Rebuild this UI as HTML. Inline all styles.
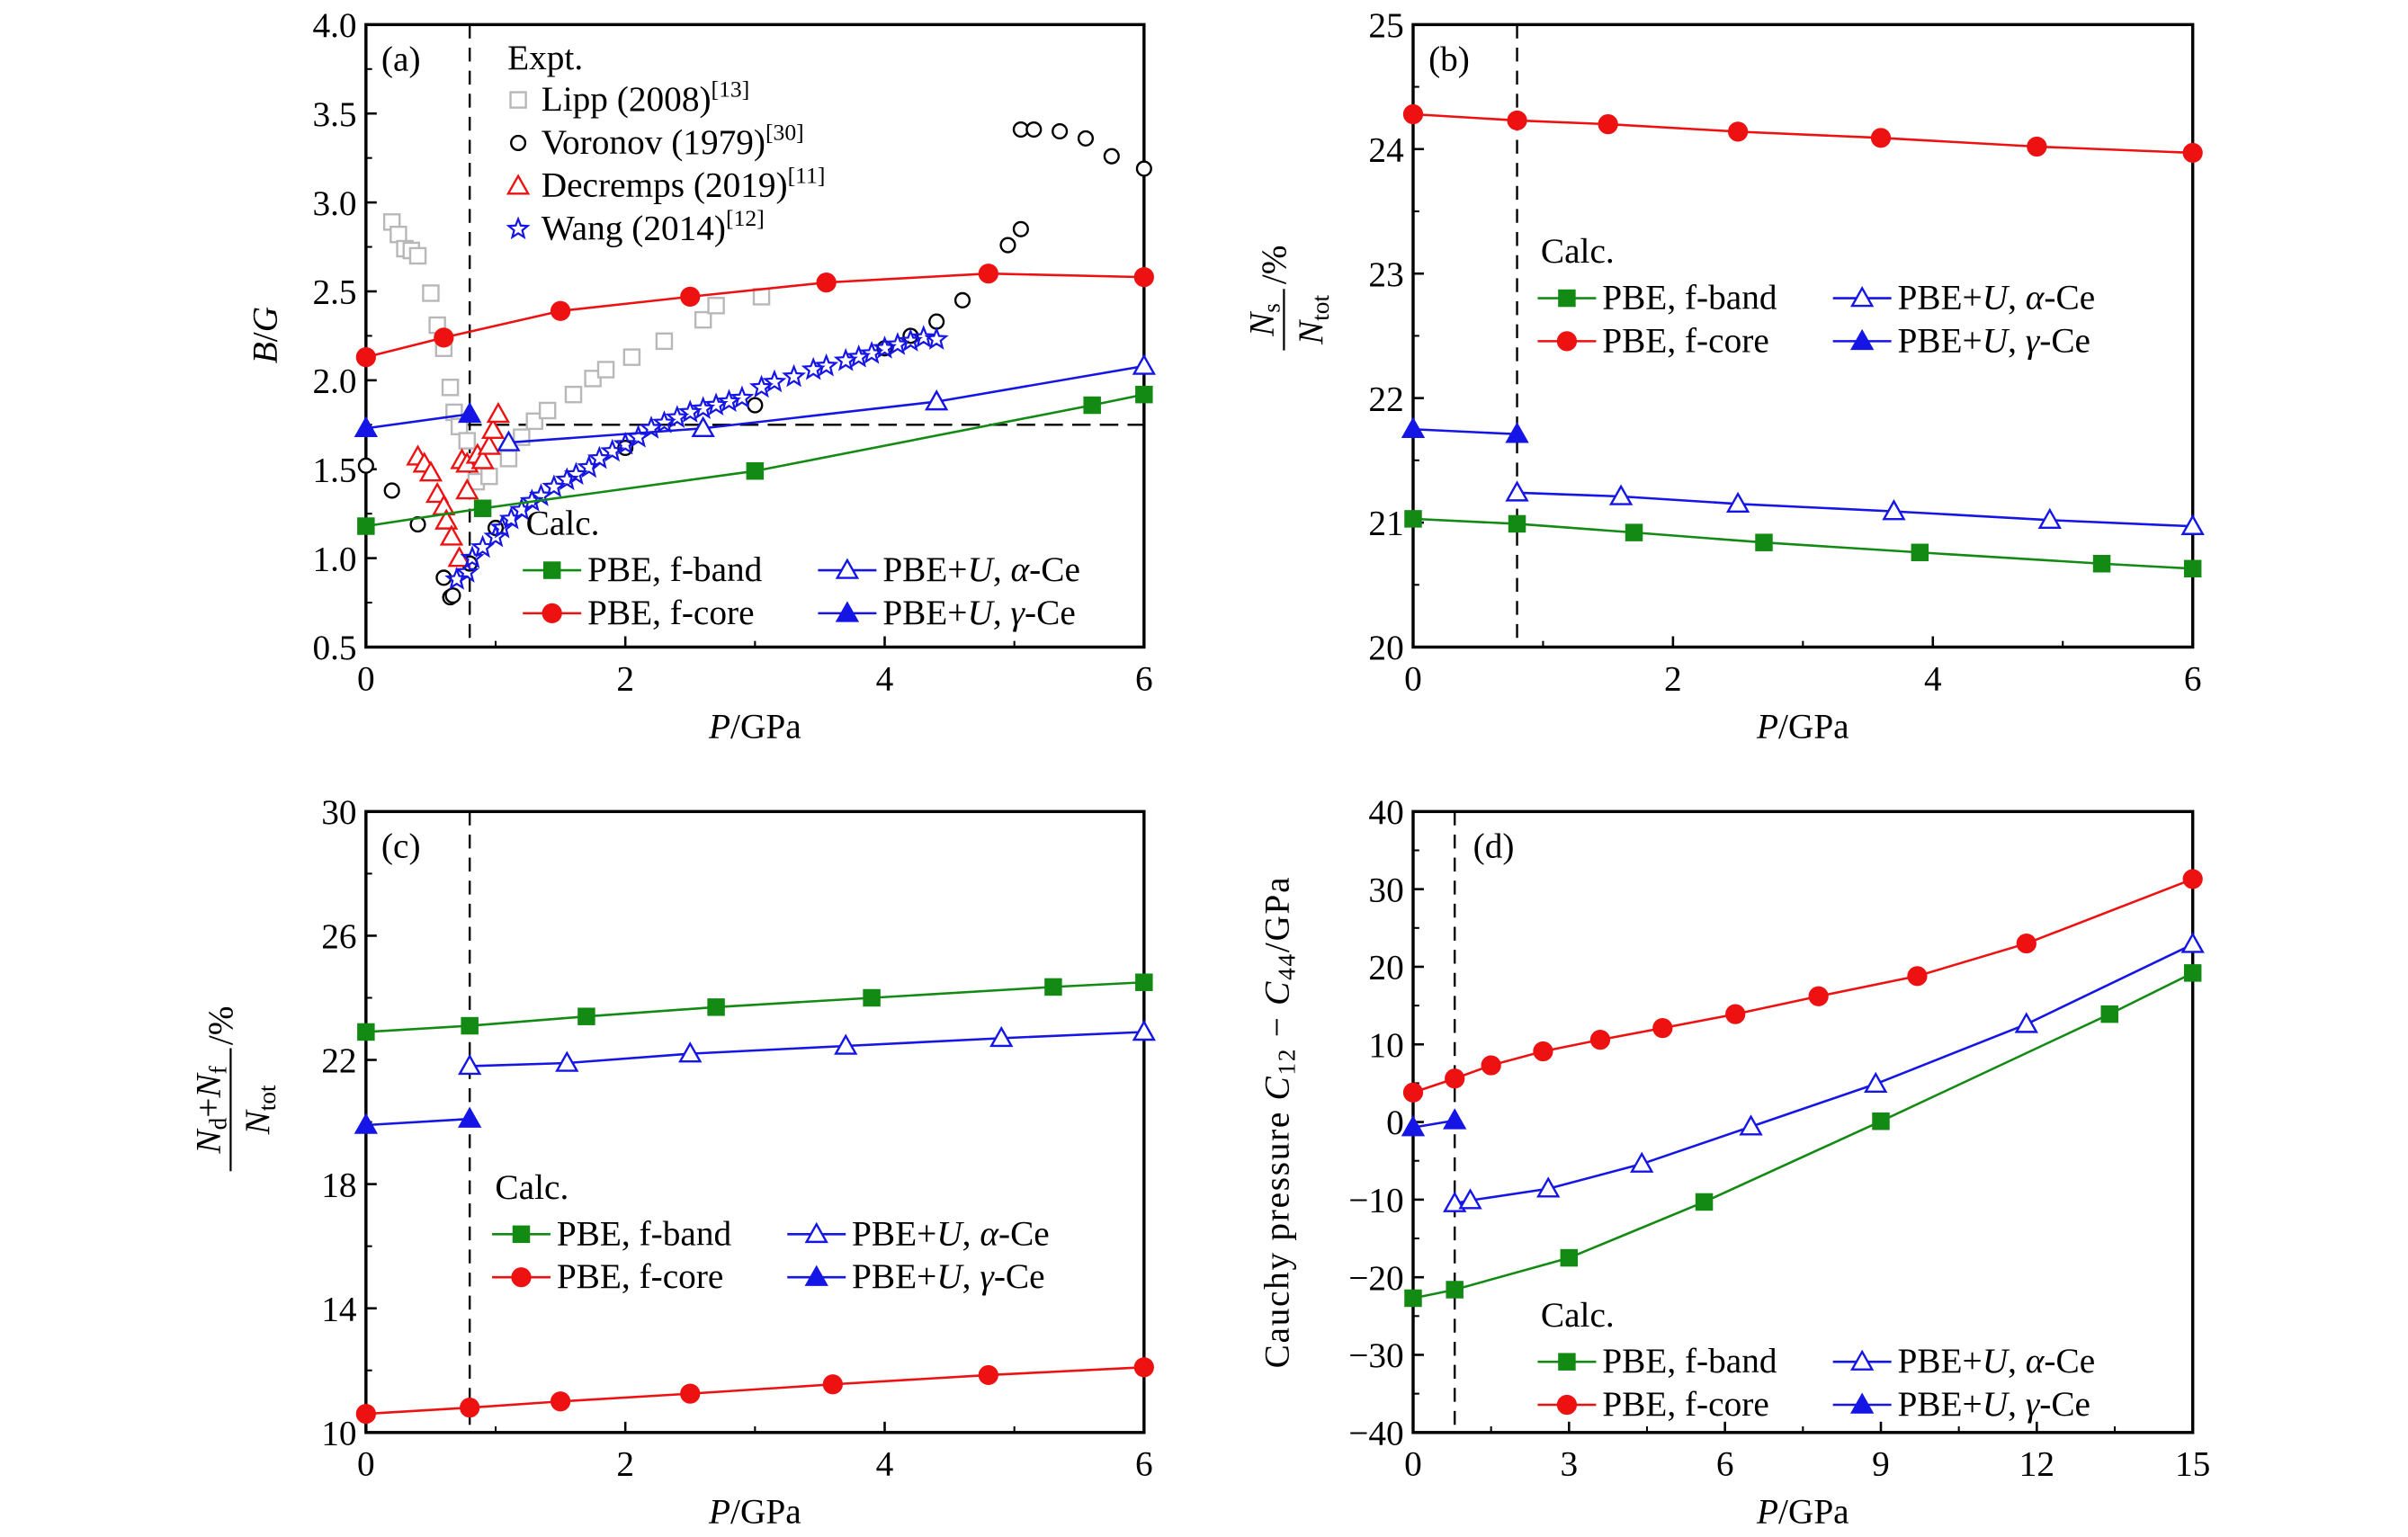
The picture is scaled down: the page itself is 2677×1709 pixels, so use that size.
<!DOCTYPE html>
<html><head><meta charset="utf-8">
<style>
html,body{margin:0;padding:0;background:#fff;}
svg{display:block;}
text{font-family:"Liberation Serif",serif;fill:#000;}
</style></head>
<body>
<svg id="fig" xmlns="http://www.w3.org/2000/svg" width="2677" height="1709" viewBox="0 0 1566 1000" preserveAspectRatio="none"></svg>
<script>
// ---------- Panel (a) data ----------
const aFbandP=[0,0.9,3.0,5.6,6];
const aFbandV=[1.18,1.28,1.49,1.86,1.92];
const aFcoreP=[0,0.6,1.5,2.5,3.55,4.8,6];
const aFcoreV=[2.13,2.24,2.39,2.47,2.55,2.60,2.58];
const aAlphaP=[1.1,2.6,4.4,6];
const aAlphaV=[1.65,1.73,1.88,2.08];
const aGammaP=[0,0.8];
const aGammaV=[1.73,1.81];
const lippP=[0.2,0.25,0.3,0.35,0.4,0.5,0.55,0.6,0.65,0.68,0.72,0.78,0.85,0.95,1.1,1.2,1.3,1.4,1.6,1.75,1.85,2.05,2.3,2.6,2.7,3.05];
const lippV=[2.89,2.82,2.74,2.73,2.70,2.49,2.31,2.18,1.96,1.82,1.74,1.66,1.43,1.46,1.56,1.68,1.77,1.83,1.92,2.01,2.06,2.13,2.22,2.34,2.42,2.47];
const voroP=[0,0.2,0.4,0.6,0.65,0.67,0.8,1.0,2.0,3.0,4.0,4.2,4.4,4.6,4.8,4.95,5.05,5.05,5.15,5.35,5.55,5.75,6.0];
const voroV=[1.52,1.38,1.19,0.89,0.78,0.79,0.97,1.17,1.62,1.86,2.18,2.25,2.33,2.45,2.60,2.76,2.85,3.41,3.41,3.40,3.36,3.26,3.19];
const decrP=[0.4,0.45,0.5,0.55,0.6,0.62,0.66,0.72,0.74,0.78,0.78,0.86,0.9,0.95,0.98,1.02];
const decrV=[1.57,1.53,1.48,1.36,1.29,1.21,1.12,1.00,1.55,1.53,1.38,1.58,1.55,1.63,1.72,1.81];
const wangP=[0.7,0.78,0.82,0.9,1.0,1.05,1.12,1.2,1.28,1.35,1.45,1.55,1.62,1.72,1.8,1.9,2.0,2.1,2.2,2.3,2.4,2.5,2.6,2.7,2.8,2.9,3.05,3.15,3.3,3.45,3.55,3.7,3.8,3.9,4.0,4.1,4.2,4.3,4.4];
const wangV=[0.88,0.92,1.0,1.06,1.12,1.17,1.22,1.27,1.32,1.35,1.40,1.44,1.47,1.51,1.56,1.60,1.64,1.68,1.73,1.76,1.79,1.82,1.84,1.86,1.88,1.90,1.96,1.99,2.02,2.06,2.08,2.11,2.13,2.15,2.18,2.20,2.22,2.24,2.23];
// ---------- Panel (b) data ----------
const bFcoreP=[0,0.8,1.5,2.5,3.6,4.8,6];
const bFcoreV=[24.28,24.23,24.2,24.14,24.09,24.02,23.97];
const bGammaP=[0,0.8];
const bGammaV=[21.75,21.71];
const bAlphaP=[0.8,1.6,2.5,3.7,4.9,6];
const bAlphaV=[21.24,21.21,21.15,21.09,21.02,20.97];
const bFbandP=[0,0.8,1.7,2.7,3.9,5.3,6];
const bFbandV=[21.03,20.99,20.92,20.84,20.76,20.67,20.63];
// ---------- Panel (c) data ----------
const cFbandP=[0,0.8,1.7,2.7,3.9,5.3,6];
const cFbandV=[22.9,23.1,23.4,23.7,24.0,24.35,24.5];
const cAlphaP=[0.8,1.55,2.5,3.7,4.9,6];
const cAlphaV=[21.8,21.9,22.2,22.45,22.7,22.9];
const cGammaP=[0,0.8];
const cGammaV=[19.9,20.1];
const cFcoreP=[0,0.8,1.5,2.5,3.6,4.8,6];
const cFcoreV=[10.6,10.8,11.0,11.25,11.55,11.85,12.1];
// ---------- Panel (d) data ----------
const dFcoreP=[0,0.8,1.5,2.5,3.6,4.8,6.2,7.8,9.7,11.8,15];
const dFcoreV=[3.8,5.6,7.3,9.1,10.6,12.1,13.9,16.2,18.8,23.0,31.3];
const dAlphaP=[0.8,1.1,2.6,4.4,6.5,8.9,11.8,15];
const dAlphaV=[-10.5,-10.1,-8.6,-5.4,-0.6,4.9,12.6,22.9];
const dGammaP=[0,0.8];
const dGammaV=[-0.7,0.2];
const dFbandP=[0,0.8,3.0,5.6,9.0,13.4,15];
const dFbandV=[-22.7,-21.6,-17.5,-10.3,0.1,13.9,19.2];
// ---------- tick labels ----------
const aYTicks=[0.5,1.0,1.5,2.0,2.5,3.0,3.5,4.0];
const bYTicks=[20,21,22,23,24,25];
const cYTicks=[10,14,18,22,26,30];
const dYTicks=[-40,-30,-20,-10,0,10,20,30,40];
const xTicks6=[0,2,4,6];
const xTicks15=[0,3,6,9,12,15];

const NS="http://www.w3.org/2000/svg";
const svg=document.getElementById('fig');
function mk(tag,attrs,parent){const e=document.createElementNS(NS,tag);for(const k in attrs)e.setAttribute(k,attrs[k]);(parent||svg).appendChild(e);return e;}

const GREEN="#138a13",RED="#ee1111",BLUE="#1515e6",GRAY="#b8b8b8";
const FS=23;

function makePanel(name,x0,x1,y0,y1,xmin,xmax,ymin,ymax){
  const g=mk('g',{});
  
  
  const sx=v=>x0+(v-xmin)/(xmax-xmin)*(x1-x0);
  const sy=v=>y1-(v-ymin)/(ymax-ymin)*(y1-y0);
  return {g,sx,sy,x0,x1,y0,y1};
}
function frame(p){
  const r=mk('rect',{x:p.x0,y:p.y0,width:p.x1-p.x0,height:p.y1-p.y0,fill:'none',stroke:'#000','stroke-width':2},p.g);
  
  
}
function yAxis(p,ticks,fmt){
  const ax=mk('g',{},p.g);
  
  
  ticks.forEach(t=>{
    const y=p.sy(t);
    mk('line',{x1:p.x0,x2:p.x0+7,y1:y,y2:y,stroke:'#000','stroke-width':1.5},ax);
    const tx=mk('text',{x:p.x0-6,y:y+8,'text-anchor':'end','font-size':FS},ax);
    tx.textContent=fmt(t);
    
    
  });
  for(let i=0;i<ticks.length-1;i++){
    const m=(ticks[i]+ticks[i+1])/2;const y=p.sy(m);
    mk('line',{x1:p.x0,x2:p.x0+4,y1:y,y2:y,stroke:'#000','stroke-width':1.2},ax);
  }
}
function xAxis(p,ticks){
  const ax=mk('g',{},p.g);
  
  
  ticks.forEach(t=>{
    const x=p.sx(t);
    mk('line',{x1:x,x2:x,y1:p.y1,y2:p.y1-7,stroke:'#000','stroke-width':1.5},ax);
    const tx=mk('text',{x:x,y:p.y1+28,'text-anchor':'middle','font-size':FS},ax);
    tx.textContent=String(t);
    
    
  });
  for(let i=0;i<ticks.length-1;i++){
    const x=p.sx((ticks[i]+ticks[i+1])/2);
    mk('line',{x1:x,x2:x,y1:p.y1,y2:p.y1-4,stroke:'#000','stroke-width':1.2},ax);
  }
  const t=mk('text',{x:(p.x0+p.x1)/2,y:p.y1+59,'text-anchor':'middle','font-size':FS},p.g);
  t.innerHTML='<tspan font-style="italic">P</tspan>/GPa';
  
  
}
function drawMarker(parent,type,x,y,color,filled){
  let e;
  const fill=filled?color:'#fff';
  if(type==='sq'){e=mk('rect',{x:x-5,y:y-5,width:10,height:10,fill:fill,stroke:color,'stroke-width':1.4},parent);}
  else if(type==='ci'){e=mk('circle',{cx:x,cy:y,r:filled?5.8:4.6,fill:fill,stroke:color,'stroke-width':1.4},parent);}
  else if(type==='tr'){e=mk('polygon',{points:`${x},${y-6.5} ${x-6.5},${y+5} ${x+6.5},${y+5}`,fill:fill,stroke:color,'stroke-width':1.4},parent);}
  else if(type==='st'){
    let pts=[];for(let i=0;i<10;i++){const r=i%2?2.8:6.5;const a=-Math.PI/2+i*Math.PI/5;pts.push((x+r*Math.cos(a)).toFixed(2)+','+(y+r*Math.sin(a)).toFixed(2));}
    e=mk('polygon',{points:pts.join(' '),fill:'none',stroke:color,'stroke-width':1.3},parent);
  }
  return e;
}
function series(p,name,P,V,color,type,filled,line){
  const g=mk('g',{},p.g);
  
  
  if(line){
    const d=P.map((v,i)=>(i?'L':'M')+p.sx(v).toFixed(2)+','+p.sy(V[i]).toFixed(2)).join(' ');
    mk('path',{d:d,fill:'none',stroke:color,'stroke-width':1.5},g);
  }
  P.forEach((v,i)=>{
    const m=drawMarker(g,type,p.sx(v),p.sy(V[i]),color,filled);
    
    
  });
}
function vdash(p,val){
  const l=mk('line',{x1:p.sx(val),x2:p.sx(val),y1:p.y0,y2:p.y1,stroke:'#000','stroke-width':1.4,'stroke-dasharray':'9,6'},p.g);
  
  
}
function panelLabel(p,txt,x,y){
  const t=mk('text',{x:x,y:y,'font-size':FS},p.g);
  t.textContent=txt;
  
  
}
function calcLegend(p,x,y){
  const g=mk('g',{},p.g);
  
  
  const h=mk('text',{x:x+2,y:y,'font-size':FS},g);h.textContent='Calc.';
  const rows=[
    [x,y+30,GREEN,'sq',true,'PBE, f-band'],
    [x,y+58,RED,'ci',true,'PBE, f-core'],
    [x+192,y+30,BLUE,'tr',false,'PBE+<tspan font-style="italic">U</tspan>, <tspan font-style="italic">α</tspan>-Ce'],
    [x+192,y+58,BLUE,'tr',true,'PBE+<tspan font-style="italic">U</tspan>, <tspan font-style="italic">γ</tspan>-Ce']];
  rows.forEach(r=>{
    const e=mk('g',{},g);
    
    
    mk('line',{x1:r[0],x2:r[0]+38,y1:r[1]-7,y2:r[1]-7,stroke:r[2],'stroke-width':1.5},e);
    drawMarker(e,r[3],r[0]+19,r[1]-7,r[2],r[4]);
    const t=mk('text',{x:r[0]+42,y:r[1],'font-size':FS},e);t.innerHTML=r[5];
  });
}

// ===== Panel a =====
const pa=makePanel('panel-a',238,744,16,421,0,6,0.5,4.0);
frame(pa);yAxis(pa,aYTicks,v=>v.toFixed(1));xAxis(pa,xTicks6);
vdash(pa,0.8);
{const l=mk('line',{x1:pa.sx(0.75),x2:pa.x1,y1:pa.sy(1.75),y2:pa.sy(1.75),stroke:'#000','stroke-width':1.4,'stroke-dasharray':'12,6'},pa.g);

}
series(pa,'lipp-2008',lippP,lippV,GRAY,'sq',false,false);
series(pa,'voronov-1979',voroP,voroV,'#000','ci',false,false);
series(pa,'decremps-2019',decrP,decrV,RED,'tr',false,false);
series(pa,'wang-2014',wangP,wangV,BLUE,'st',false,false);
series(pa,'pbe-f-core',aFcoreP,aFcoreV,RED,'ci',true,true);
series(pa,'pbe-f-band',aFbandP,aFbandV,GREEN,'sq',true,true);
series(pa,'pbe-u-alpha',aAlphaP,aAlphaV,BLUE,'tr',false,true);
series(pa,'pbe-u-gamma',aGammaP,aGammaV,BLUE,'tr',true,true);
panelLabel(pa,'(a)',248,46);
{const g=mk('g',{},pa.g);


const h=mk('text',{x:330,y:45,'font-size':FS},g);h.textContent='Expt.';
const rows=[[72,GRAY,'sq','Lipp (2008)','[13]'],[100,'#000','ci','Voronov (1979)','[30]'],[128,RED,'tr','Decremps (2019)','[11]'],[156,BLUE,'st','Wang (2014)','[12]']];
rows.forEach(r=>{
  const e=mk('g',{},g);
  
  
  drawMarker(e,r[2],337,r[0]-7,r[1],false);
  const t=mk('text',{x:352,y:r[0],'font-size':FS},e);
  t.innerHTML=r[3]+'<tspan font-size="15" dy="-9">'+r[4]+'</tspan>';
});}
calcLegend(pa,340,348);
{const t=mk('text',{x:0,y:0,'font-size':FS,transform:'translate(180,218) rotate(-90)','text-anchor':'middle'},pa.g);
t.innerHTML='<tspan font-style="italic">B</tspan>/<tspan font-style="italic">G</tspan>';

}

// ===== Panel b =====
const pb=makePanel('panel-b',919,1426,16,421,0,6,20,25);
frame(pb);yAxis(pb,bYTicks,v=>String(v));xAxis(pb,xTicks6);
vdash(pb,0.8);
series(pb,'pbe-f-core',bFcoreP,bFcoreV,RED,'ci',true,true);
series(pb,'pbe-u-gamma',bGammaP,bGammaV,BLUE,'tr',true,true);
series(pb,'pbe-u-alpha',bAlphaP,bAlphaV,BLUE,'tr',false,true);
series(pb,'pbe-f-band',bFbandP,bFbandV,GREEN,'sq',true,true);
panelLabel(pb,'(b)',929,46);
calcLegend(pb,1000,171);
{const g=mk('g',{transform:'translate(838,208) rotate(-90)'},pb.g);


const n=mk('text',{x:0,y:-10,'font-size':FS,'text-anchor':'middle'},g);n.innerHTML='<tspan font-style="italic">N</tspan><tspan font-size="16" dy="4">s</tspan>';
mk('line',{x1:-20,x2:20,y1:-3,y2:-3,stroke:'#000','stroke-width':1.3},g);
const d=mk('text',{x:0,y:22,'font-size':FS,'text-anchor':'middle'},g);d.innerHTML='<tspan font-style="italic">N</tspan><tspan font-size="16" dy="4">tot</tspan>';
const s=mk('text',{x:23,y:-2,'font-size':FS},g);s.textContent='/%';}

// ===== Panel c =====
const pc=makePanel('panel-c',238,744,528,932,0,6,10,30);
frame(pc);yAxis(pc,cYTicks,v=>String(v));xAxis(pc,xTicks6);
vdash(pc,0.8);
series(pc,'pbe-f-band',cFbandP,cFbandV,GREEN,'sq',true,true);
series(pc,'pbe-u-alpha',cAlphaP,cAlphaV,BLUE,'tr',false,true);
series(pc,'pbe-u-gamma',cGammaP,cGammaV,BLUE,'tr',true,true);
series(pc,'pbe-f-core',cFcoreP,cFcoreV,RED,'ci',true,true);
panelLabel(pc,'(c)',248,558);
calcLegend(pc,320,780);
{const g=mk('g',{transform:'translate(153,722) rotate(-90)'},pc.g);


const n=mk('text',{x:0,y:-10,'font-size':FS,'text-anchor':'middle'},g);n.innerHTML='<tspan font-style="italic">N</tspan><tspan font-size="16" dy="4">d</tspan><tspan dy="-4">+</tspan><tspan font-style="italic">N</tspan><tspan font-size="16" dy="4">f</tspan>';
mk('line',{x1:-40,x2:40,y1:-3,y2:-3,stroke:'#000','stroke-width':1.3},g);
const d=mk('text',{x:0,y:22,'font-size':FS,'text-anchor':'middle'},g);d.innerHTML='<tspan font-style="italic">N</tspan><tspan font-size="16" dy="4">tot</tspan>';
const s=mk('text',{x:42,y:-2,'font-size':FS},g);s.textContent='/%';}

// ===== Panel d =====
const pd=makePanel('panel-d',919,1426,528,932,0,15,-40,40);
frame(pd);yAxis(pd,dYTicks,v=>v<0?'−'+(-v):String(v));xAxis(pd,xTicks15);
vdash(pd,0.8);
series(pd,'pbe-f-core',dFcoreP,dFcoreV,RED,'ci',true,true);
series(pd,'pbe-u-alpha',dAlphaP,dAlphaV,BLUE,'tr',false,true);
series(pd,'pbe-u-gamma',dGammaP,dGammaV,BLUE,'tr',true,true);
series(pd,'pbe-f-band',dFbandP,dFbandV,GREEN,'sq',true,true);
panelLabel(pd,'(d)',958,558);
calcLegend(pd,1000,863);
{const t=mk('text',{x:0,y:0,'font-size':FS,transform:'translate(838,730) rotate(-90)','text-anchor':'middle','letter-spacing':'1'},pd.g);
t.innerHTML='Cauchy pressure <tspan font-style="italic">C</tspan><tspan font-size="16" dy="4">12</tspan><tspan dy="-4"> − </tspan><tspan font-style="italic">C</tspan><tspan font-size="16" dy="4">44</tspan><tspan dy="-4">/GPa</tspan>';

}
</script>
</body></html>
